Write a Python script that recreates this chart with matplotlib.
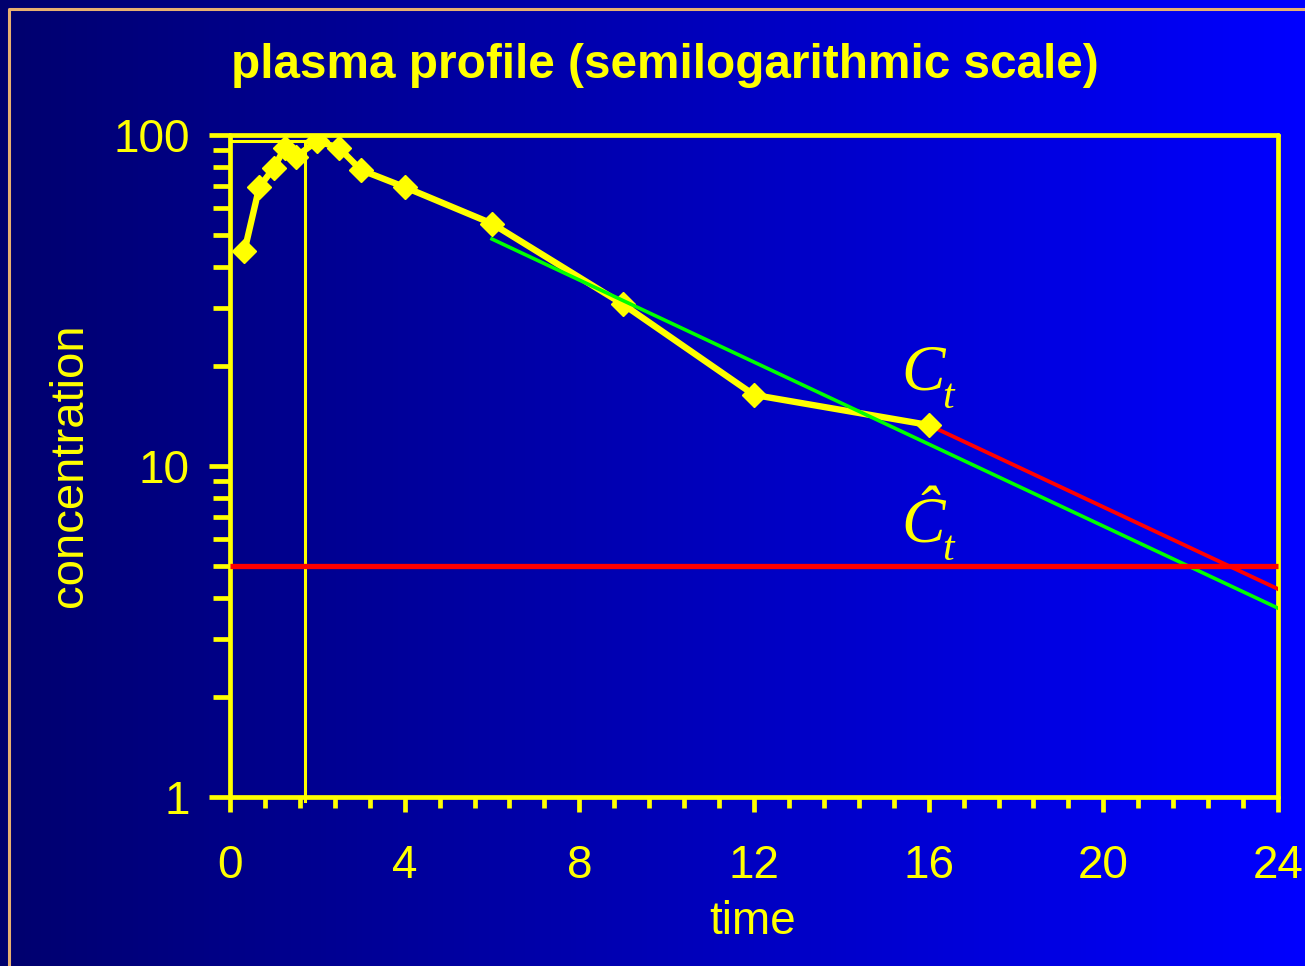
import numpy as np
import matplotlib
matplotlib.use("Agg")
import matplotlib.pyplot as plt
from matplotlib.ticker import MultipleLocator, LogLocator, NullFormatter
from matplotlib.lines import Line2D

# plasma profile data
time_h = [0.33, 0.67, 1.0, 1.25, 1.5, 2.0, 2.5, 3.0, 4.0, 6.0, 9.0, 12.0, 16.0]
conc = [44.6, 69.6, 79.4, 91.3, 85.8, 96.0, 91.3, 78.4, 69.6, 54.0, 30.8, 16.4, 13.3]

# terminal phase regression line (green) and extrapolation from last point (red)
fit_t = [6.0, 24.0]
fit_c = [48.5, 3.72]
extrap_t = [16.0, 24.0]
extrap_c = [13.3, 4.25]

threshold = 5.0
tmax = 1.72
cmax = 96.0

x_ticks = [0, 4, 8, 12, 16, 20, 24]
y_ticks = [1, 10, 100]
y_labels = ['1', '10', '100']

yellow = '#ffff00'
plt.rcParams['font.family'] = ['Liberation Sans', 'DejaVu Sans']

fig = plt.figure(figsize=(13.05, 9.66), dpi=100)

# background gradient (dark navy -> bright blue)
bg = fig.add_axes([0, 0, 1, 1], zorder=-10)
grad = np.linspace(0.43, 1.0, 256).reshape(1, -1)
rgb = np.zeros((1, 256, 3))
rgb[..., 2] = grad
bg.imshow(rgb, aspect='auto', extent=[0, 1, 0, 1])
bg.set_axis_off()

# slide frame line at top and left
fig.add_artist(Line2D([9 / 1305, 9 / 1305, 1.0], [0.0, 1 - 9 / 966, 1 - 9 / 966],
                      transform=fig.transFigure, color='#e8b070', lw=2.2))

ax = fig.add_axes([230 / 1305, 1 - 797 / 966, 1048 / 1305, 662 / 966])
ax.set_facecolor('none')
ax.set_yscale('log')
ax.set_xlim(0, 24)
ax.set_ylim(1, 100)

ax.plot(time_h, conc, color=yellow, lw=4.6, marker='D', ms=12.5, mec=yellow, zorder=3)
ax.plot(fit_t, fit_c, color='#00ff00', lw=2.6, zorder=4)
ax.plot(extrap_t, extrap_c, color='#ff0000', lw=2.8, zorder=2.9)
ax.plot([0, 24], [threshold, threshold], color='#ff0000', lw=3.8, zorder=5,
        clip_on=False, solid_capstyle='butt')
ax.plot([tmax, tmax], [0.97, cmax], color=yellow, lw=2.2, clip_on=False, zorder=2)
ax.plot([0, tmax], [cmax, cmax], color=yellow, lw=2.2, zorder=2)

# C_t and C-hat_t labels (Times-like italic)
serif = ['Liberation Serif', 'DejaVu Serif']
ax.text(15.38, 16.97, 'C', family=serif, style='italic', color=yellow,
        fontsize=47, ha='left', va='baseline')
ax.text(16.32, 15.0, 't', family=serif, style='italic', color=yellow,
        fontsize=30, ha='left', va='baseline')
ax.text(15.38, 5.89, '\u0108', family=serif, style='italic', color=yellow,
        fontsize=47, ha='left', va='baseline')
ax.text(16.32, 5.2, 't', family=serif, style='italic', color=yellow,
        fontsize=30, ha='left', va='baseline')

for s in ax.spines.values():
    s.set_color(yellow)
    s.set_linewidth(3.4)
    s.set_capstyle('round')

ax.set_xticks(x_ticks)
ax.xaxis.set_minor_locator(MultipleLocator(0.8))
ax.set_yticks(y_ticks, labels=y_labels)
ax.yaxis.set_minor_locator(LogLocator(base=10, subs=np.arange(2, 10)))
ax.yaxis.set_minor_formatter(NullFormatter())

ax.tick_params(axis='x', which='major', length=11, width=3.4, color=yellow,
               labelcolor=yellow, labelsize=33, pad=23)
ax.tick_params(axis='x', which='minor', length=8, width=3.4, color=yellow)
ax.tick_params(axis='y', which='major', length=15, width=3.4, color=yellow,
               labelcolor=yellow, labelsize=33, pad=14)
ax.tick_params(axis='y', which='minor', length=12, width=3.4, color=yellow)

fig.text(665 / 1305, 1 - 65 / 966, 'plasma profile (semilogarithmic scale)',
         color=yellow, fontsize=34.4, fontweight='bold', ha='center', va='center')
fig.text(70 / 1305, 1 - 465 / 966, 'concentration', color=yellow, fontsize=34,
         rotation=90, ha='center', va='center')
fig.text(753 / 1305, 1 - 922 / 966, 'time', color=yellow, fontsize=33,
         ha='center', va='center')

fig.savefig('out.png', dpi=100)
